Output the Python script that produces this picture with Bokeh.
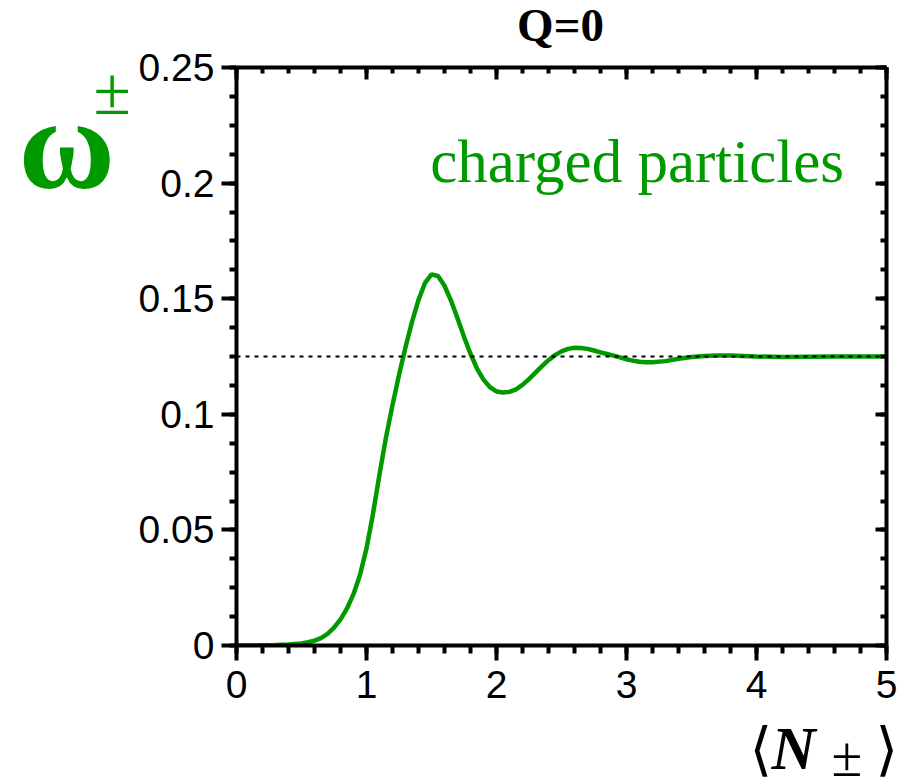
from bokeh.plotting import figure
from bokeh.models import (Range1d, LinearAxis, SingleIntervalTicker, CustomJSTickFormatter, Label)
from bokeh.layouts import row, column
from bokeh.embed import file_html
from bokeh.resources import INLINE

# ---- data ----
n_mean = [0, 0.1, 0.2, 0.3, 0.4, 0.5, 0.55, 0.6, 0.65, 0.7, 0.75, 0.8, 0.85, 0.9, 0.95,
          1.0, 1.05, 1.1, 1.15, 1.2, 1.25, 1.3, 1.35, 1.4, 1.45, 1.5, 1.55, 1.6, 1.65,
          1.7, 1.75, 1.8, 1.85, 1.9, 1.95, 2.0, 2.05, 2.1, 2.15, 2.2, 2.25, 2.3, 2.35,
          2.4, 2.45, 2.5, 2.55, 2.6, 2.65, 2.7, 2.75, 2.8, 2.85, 2.9, 2.95, 3.0, 3.05,
          3.1, 3.15, 3.2, 3.3, 3.4, 3.5, 3.6, 3.7, 3.8, 3.9, 4.0, 4.2, 4.4, 4.6, 4.8, 5.0]
omega = [0, 0, 0.0001, 0.0002, 0.0004, 0.0009, 0.0014, 0.0021, 0.0032, 0.0050, 0.0077,
         0.0113, 0.0160, 0.0222, 0.0305, 0.0420, 0.0570, 0.0740, 0.0900, 0.1040, 0.1170,
         0.1290, 0.1400, 0.1495, 0.1568, 0.1605, 0.1598, 0.1556, 0.1492, 0.1415, 0.1335,
         0.1262, 0.1198, 0.1150, 0.1117, 0.1099, 0.1094, 0.1097, 0.1108, 0.1127, 0.1152,
         0.1180, 0.1208, 0.1234, 0.1256, 0.1272, 0.1283, 0.1288, 0.1287, 0.1283, 0.1276,
         0.1268, 0.1261, 0.1254, 0.1246, 0.1238, 0.1232, 0.1227, 0.1225, 0.1225, 0.1230,
         0.1240, 0.1248, 0.1252, 0.1254, 0.1254, 0.1252, 0.1250, 0.1248, 0.1249, 0.1250,
         0.1250, 0.1250]
limit_value = 0.125
limit_x = [0, 5]

title_text = "Q=0"
curve_label = "charged particles"
GREEN = "#009a00"

W, H = 910, 783
TOP_Y = 50      # page y where the main row starts
ROW_Y = 715     # page y where the main row ends
LEFT_W = 135
BASE_CORR = 0.365  # empirical shift of Bokeh's alphabetic baseline (em)

# ---------------- main plot ----------------
p = figure(width=W - LEFT_W, height=ROW_Y - TOP_Y, x_range=Range1d(0, 5), y_range=Range1d(0, 0.25),
           output_backend="svg", toolbar_location=None, title=None,
           min_border_left=235 - LEFT_W, min_border_right=24, min_border_top=67 - TOP_Y,
           min_border_bottom=ROW_Y - 645)
p.outline_line_color = None
p.xgrid.visible = False
p.ygrid.visible = False
p.background_fill_color = "white"
p.border_fill_color = "white"

fmt_y = CustomJSTickFormatter(code="return String(Math.round(tick*100)/100);")
fmt_x = CustomJSTickFormatter(code="return String(Math.round(tick));")

def style(ax, tin, tout, min_in, min_out):
    ax.axis_line_width = 4
    ax.axis_line_color = "black"
    ax.major_tick_line_width = 4
    ax.minor_tick_line_width = 4
    ax.major_tick_in = tin
    ax.major_tick_out = tout
    ax.minor_tick_in = min_in
    ax.minor_tick_out = min_out
    ax.major_label_text_font = "Liberation Sans"
    ax.major_label_text_font_size = "39px"
    ax.major_label_text_color = "black"
    ax.axis_label = None

xa = p.xaxis[0]
xa.ticker = SingleIntervalTicker(interval=1, num_minor_ticks=5)
xa.formatter = fmt_x
style(xa, 0, 15, 0, 8)
xa.major_label_standoff = 10

ya = p.yaxis[0]
ya.ticker = SingleIntervalTicker(interval=0.05, num_minor_ticks=4)
ya.formatter = fmt_y
style(ya, 0, 15, 0, 7)
ya.major_label_standoff = 7

top = LinearAxis(ticker=SingleIntervalTicker(interval=1, num_minor_ticks=5),
                 formatter=CustomJSTickFormatter(code="return '';"))
style(top, 12, 0, 6, 0)
top.major_label_text_color = None
top.major_label_text_font_size = "0px"
top.major_label_standoff = 0
p.add_layout(top, "above")

right = LinearAxis(ticker=SingleIntervalTicker(interval=0.05, num_minor_ticks=4),
                   formatter=CustomJSTickFormatter(code="return '';"))
style(right, 11, 0, 6, 0)
right.major_label_text_color = None
right.major_label_text_font_size = "0px"
right.major_label_standoff = 0
p.add_layout(right, "right")

p.line(n_mean, omega, line_color=GREEN, line_width=4.5)
p.line(limit_x, [limit_value, limit_value], line_color="black", line_width=2, line_dash="4 5")

def dx(px):
    return (px - 235) / 130.2

def dy(py):
    return (645 - py) / 2312.0

p.add_layout(Label(x=dx(429), y=dy(183 - BASE_CORR * 61), text=curve_label, text_align="left",
                   text_baseline="alphabetic", text_font="Liberation Serif",
                   text_font_size="61px", text_color=GREEN))

# ---------------- helper panels for outer labels (data coords = page pixels) ----------------
def panel(x0, x1, y0, y1):
    f = figure(frame_width=x1 - x0, frame_height=y1 - y0, x_range=Range1d(x0, x1),
               y_range=Range1d(y1, y0), output_backend="svg", toolbar_location=None,
               title=None, x_axis_location=None, y_axis_location=None,
               min_border_left=0, min_border_right=0, min_border_top=0, min_border_bottom=0)
    f.outline_line_color = None
    f.xgrid.visible = False
    f.ygrid.visible = False
    f.background_fill_color = "white"
    f.border_fill_color = "white"
    return f

def add_text(f, x, base_y, text, size, font="Liberation Serif", style="normal",
             color="black", align="left"):
    f.add_layout(Label(x=x, y=base_y - BASE_CORR * size, text=text, text_align=align,
                       text_baseline="alphabetic", text_font=font, text_font_style=style,
                       text_font_size=f"{size}px", text_color=color))

# top panel: title
top_panel = panel(0, W, 0, TOP_Y)
add_text(top_panel, 560, 42, title_text, 47, style="bold", align="center")

# left panel: y-axis title  omega^±  (baselines nudged empirically)
left = panel(0, LEFT_W, TOP_Y, ROW_Y)
add_text(left, 18, 174, "ω", 132, style="bold", color=GREEN)
add_text(left, 93, 98, "±", 68, color=GREEN)

# bottom panel: x-axis title  <N_±>
bottom = panel(0, W, ROW_Y, H)
add_text(bottom, 749, 770, "⟨", 58, font="DejaVu Serif")
add_text(bottom, 771, 770, "N", 61, style="bold italic")
add_text(bottom, 831, 777, "±", 56)
add_text(bottom, 875, 770, "⟩", 58, font="DejaVu Serif")

layout = column(top_panel, row(left, p, spacing=0), bottom, spacing=0)
open("out.html", "w").write(file_html(layout, INLINE))
